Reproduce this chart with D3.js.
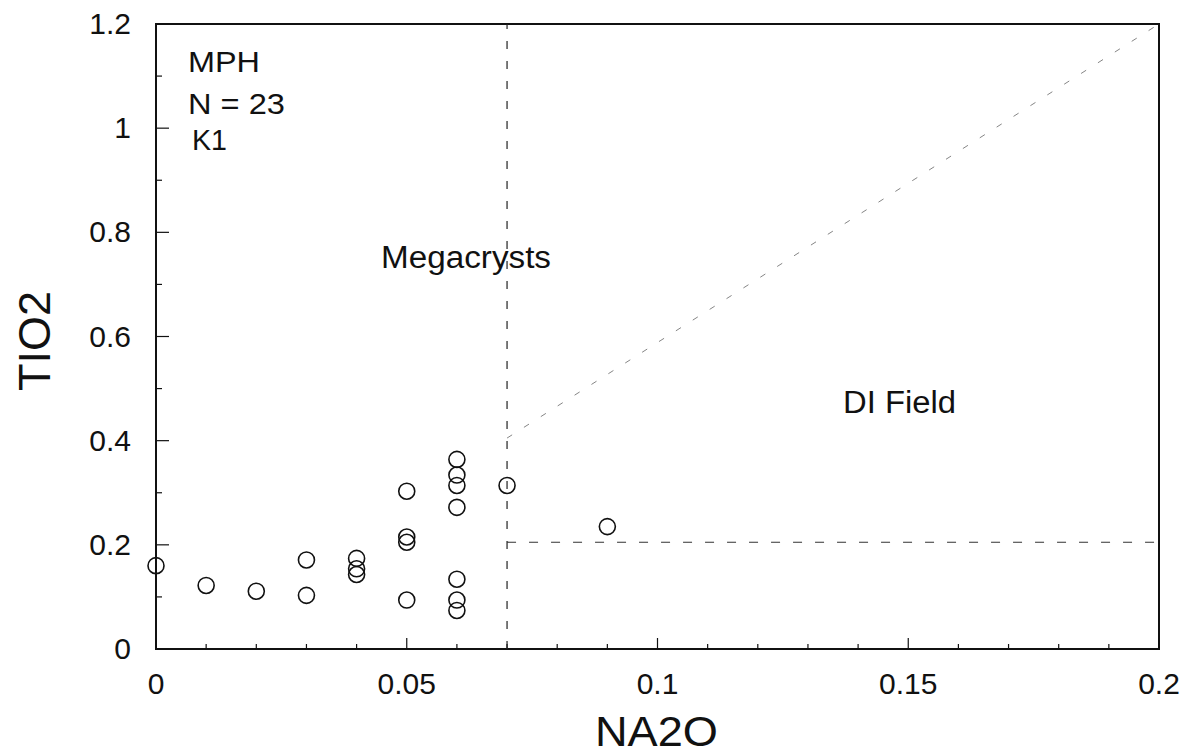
<!DOCTYPE html>
<html>
<head>
<meta charset="utf-8">
<script src="https://cdn.jsdelivr.net/npm/d3@7"></script>
<style>
  html, body { margin: 0; padding: 0; background: #fff; }
  svg { display: block; }
  text { font-family: "Liberation Sans", Arial, Helvetica, sans-serif; fill: #111; }
</style>
</head>
<body>
<svg id="chart" width="1197" height="755"></svg>
<script>
// ---- data ----
const na2o = [0, 0.01, 0.02, 0.03, 0.03, 0.04, 0.04, 0.04, 0.05, 0.05, 0.05, 0.05,
              0.06, 0.06, 0.06, 0.06, 0.06, 0.06, 0.06, 0.07, 0.09];
const tio2 = [0.160, 0.122, 0.111, 0.171, 0.103, 0.174, 0.154, 0.143, 0.303, 0.215, 0.205, 0.094,
              0.364, 0.334, 0.314, 0.272, 0.134, 0.094, 0.074, 0.314, 0.235];
const xTicks = [0, 0.05, 0.1, 0.15, 0.2];
const xTickLabels = ["0", "0.05", "0.1", "0.15", "0.2"];
const yTicks = [0, 0.2, 0.4, 0.6, 0.8, 1, 1.2];
const yTickLabels = ["0", "0.2", "0.4", "0.6", "0.8", "1", "1.2"];
const infoLines = ["MPH", "N = 23", "K1"];
const megaBoundaryX = 0.07;
const diBoundaryY = 0.205;
const diagStart = [0.07, 0.405];
const diagEnd = [0.2, 1.2];

// ---- layout ----
const svg = d3.select("#chart");
const L = 156, R = 1159, T = 24, B = 649;
const x = d3.scaleLinear().domain([0, 0.2]).range([L, R]);
const y = d3.scaleLinear().domain([0, 1.2]).range([B, T]);

// minor ticks
const xMinor = d3.range(0, 0.2001, 0.01);
const yMinor = d3.range(0, 1.2001, 0.1);

// frame
svg.append("rect").attr("x", L).attr("y", T).attr("width", R - L).attr("height", B - T)
  .attr("fill", "none").attr("stroke", "#111").attr("stroke-width", 2);

// x ticks (inward)
svg.append("g").selectAll("line").data(xMinor).join("line")
  .attr("x1", d => x(d)).attr("x2", d => x(d))
  .attr("y1", B).attr("y2", d => (Math.abs(Math.round(d * 100) % 5) === 0) ? B - 11 : B - 5)
  .attr("stroke", "#111").attr("stroke-width", 1.2);
// y ticks (inward)
svg.append("g").selectAll("line").data(yMinor).join("line")
  .attr("y1", d => y(d)).attr("y2", d => y(d))
  .attr("x1", L).attr("x2", d => (Math.round(d * 10) % 2 === 0) ? L + 13 : L + 6)
  .attr("stroke", "#111").attr("stroke-width", 1.2);

// tick labels
svg.append("g").selectAll("text").data(xTicks).join("text")
  .attr("x", d => x(d)).attr("y", 694).attr("text-anchor", "middle")
  .attr("font-size", 30).text((d, i) => xTickLabels[i]);
svg.append("g").selectAll("text").data(yTicks).join("text")
  .attr("x", 131).attr("y", d => y(d) + 10).attr("text-anchor", "end")
  .attr("font-size", 30).text((d, i) => yTickLabels[i]);

// axis titles
svg.append("text").attr("x", 595).attr("y", 746)
  .attr("font-size", 42).attr("textLength", 123).attr("lengthAdjust", "spacingAndGlyphs")
  .text("NA2O");
svg.append("text").attr("transform", "translate(50,341) rotate(-90)").attr("text-anchor", "middle")
  .attr("font-size", 45).text("TIO2");

// boundary lines
svg.append("line")
  .attr("x1", x(megaBoundaryX)).attr("x2", x(megaBoundaryX))
  .attr("y1", y(0)).attr("y2", y(1.2))
  .attr("stroke", "#222").attr("stroke-width", 1.2).attr("stroke-dasharray", "8,12");
svg.append("line")
  .attr("x1", x(megaBoundaryX)).attr("x2", x(0.2))
  .attr("y1", y(diBoundaryY)).attr("y2", y(diBoundaryY))
  .attr("stroke", "#333").attr("stroke-width", 1.1).attr("stroke-dasharray", "9,13");
svg.append("line")
  .attr("x1", x(diagStart[0])).attr("y1", y(diagStart[1]))
  .attr("x2", x(diagEnd[0])).attr("y2", y(diagEnd[1]))
  .attr("stroke", "#777").attr("stroke-width", 0.9).attr("stroke-dasharray", "6,14");

// points
svg.append("g").selectAll("circle").data(na2o).join("circle")
  .attr("cx", d => x(d)).attr("cy", (d, i) => y(tio2[i])).attr("r", 8)
  .attr("fill", "none").attr("stroke", "#111").attr("stroke-width", 1.6);

// annotations
const infoY = [72, 114, 150];
const infoX = [188, 188, 192];
const infoW = [72, 97, 35];
svg.append("g").selectAll("text").data(infoLines).join("text")
  .attr("x", (d, i) => infoX[i]).attr("y", (d, i) => infoY[i])
  .attr("font-size", 30).attr("textLength", (d, i) => infoW[i])
  .attr("lengthAdjust", "spacingAndGlyphs").text(d => d);
svg.append("text").attr("x", 381).attr("y", 268).attr("font-size", 31)
  .attr("textLength", 170).attr("lengthAdjust", "spacingAndGlyphs").text("Megacrysts");
svg.append("text").attr("x", 843).attr("y", 413).attr("font-size", 31)
  .attr("textLength", 113).attr("lengthAdjust", "spacingAndGlyphs").text("DI Field");
</script>
</body>
</html>
